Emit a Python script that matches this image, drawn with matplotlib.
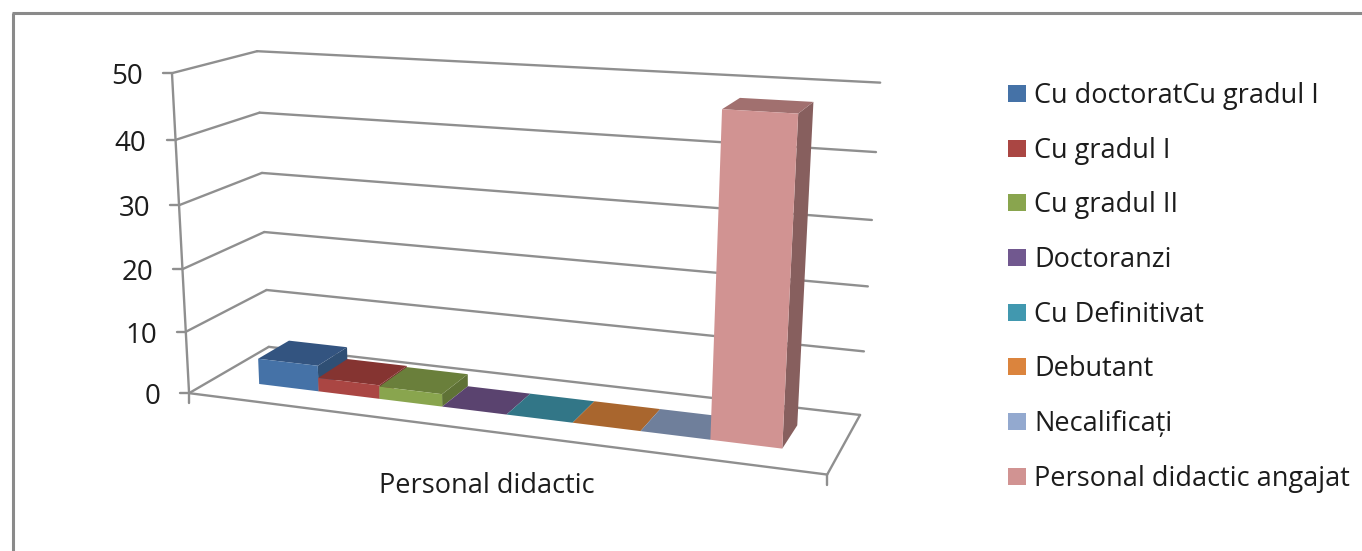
import numpy as np
import matplotlib
matplotlib.use('Agg')
import matplotlib.pyplot as plt
from matplotlib.patches import Polygon, Patch

# data
categories = ['Cu doctoratCu gradul I', 'Cu gradul I', 'Cu gradul II', 'Doctoranzi',
              'Cu Definitivat', 'Debutant', 'Necalificați', 'Personal didactic angajat']
values = [4.2, 2.2, 2, 0, 0, 0, 0, 48]
front_colors = ['#4572a7', '#aa4643', '#89a54e', '#71588f', '#4198af', '#db843d', '#93a9cf', '#d19392']
top_colors = ['#335480', '#853431', '#6a7f3b', '#5a436f', '#327687', '#a9662e', '#6f7f9b', '#a1706f']
side_colors = ['#2f4f74', '#7a302d', '#5f7236', '#513d65', '#2d6b7a', '#99602a', '#65738c', '#875f5e']
y_ticks = [0, 10, 20, 30, 40, 50]
group_label = 'Personal didactic'

# where the chart box corners land in the picture (x along, z depth, v value) -> pixels
box_front_left = [(393, 190), (332, 186), (269, 182), (205, 179), (140, 175), (73, 172)]
box_back_left = [(347, 268), (290, 267), (232, 264), (173, 262), (113, 259), (51, 258)]
box_back_right = [(415, 860), (351, 864), (286, 868), (220, 872), (152, 876), (83, 880)]
box_front_right_floor = (827, 475)

GRID = '#8f8f8f'
FONT = 'Open Sans'
TXT = '#1c1c1c'


def fit_camera():
    rows = []
    corners = [(0, 0, box_front_left), (0, 1, box_back_left), (1, 1, box_back_right)]
    pts = []
    for x, z, col in corners:
        for val, (py, px) in zip(y_ticks, col):
            pts.append((x, z, val / 50, px / 1000, py / 1000))
    pts.append((1, 0, 0, box_front_right_floor[0] / 1000, box_front_right_floor[1] / 1000))
    for x, z, v, u, w in pts:
        rows.append([x, z, v, 1, 0, 0, 0, 0, -u * x, -u * z, -u * v, -u])
        rows.append([0, 0, 0, 0, x, z, v, 1, -w * x, -w * z, -w * v, -w])
    _, _, vt = np.linalg.svd(np.array(rows))
    return vt[-1].reshape(3, 4)


CAM = fit_camera()


def proj(x, z, v):
    p = CAM @ np.array([x, z, v / 50, 1.0])
    return p[0] / p[2] * 1000, p[1] / p[2] * 1000


fig = plt.figure(figsize=(13.62, 5.51), dpi=100)
ax = fig.add_axes([0, 0, 1, 1])
ax.set_xlim(0, 1362)
ax.set_ylim(551, 0)
ax.axis('off')

# outer frame of the screenshot
ax.plot([13, 13], [551, 12.5], color='#8a8a8a', lw=2.2, solid_capstyle='butt')
ax.plot([12, 1362], [12.5, 12.5], color='#8a8a8a', lw=2.2, solid_capstyle='butt')


def seg(a, b, lw=1.7):
    ax.plot([a[0], b[0]], [a[1], b[1]], color=GRID, lw=lw, solid_capstyle='round', zorder=1)


# walls and gridlines
for t in y_ticks:
    seg(proj(0, 0, t), proj(0, 1, t))
    seg(proj(0, 1, t), proj(1, 1, t))
    fx, fy = proj(0, 0, t)
    seg((fx - 9, fy), (fx, fy))
    ax.text(fx - 29, fy + 4, str(t), ha='right', va='center', fontsize=20, family=FONT, color=TXT)
seg(proj(0, 0, 0), proj(0, 0, 50))
seg(proj(0, 0, 0), proj(1, 0, 0))
seg(proj(1, 0, 0), proj(1, 1, 0))
for x in [0, 1]:
    fx, fy = proj(x, 0, 0)
    seg((fx, fy), (fx, fy + 10))

# the bars, left to right
bar_start = 0.081
bar_w = 0.105
z_front, z_back = 0.30, 0.70
for i, val in enumerate(values):
    x0 = bar_start + i * bar_w
    x1 = x0 + bar_w
    side = [proj(x1, z_front, 0), proj(x1, z_back, 0), proj(x1, z_back, val), proj(x1, z_front, val)]
    top = [proj(x0, z_front, val), proj(x1, z_front, val), proj(x1, z_back, val), proj(x0, z_back, val)]
    front = [proj(x0, z_front, 0), proj(x1, z_front, 0), proj(x1, z_front, val), proj(x0, z_front, val)]
    ax.add_patch(Polygon(side, fc=side_colors[i], ec='none', zorder=2 + i))
    ax.add_patch(Polygon(top, fc=top_colors[i], ec='none', zorder=2 + i))
    if val > 0:
        ax.add_patch(Polygon(front, fc=front_colors[i], ec='none', zorder=2 + i))

ax.text(487, 486, group_label, ha='center', va='center', fontsize=19.5, family=FONT, color=TXT)

handles = [Patch(fc=c, ec='none', label=n) for c, n in zip(front_colors, categories)]
leg = ax.legend(handles=handles, loc='upper left', bbox_to_anchor=(1008 / 1362, 1 - 82 / 551),
                bbox_transform=ax.transAxes, frameon=False, borderaxespad=0, borderpad=0,
                prop={'family': FONT, 'size': 19.5}, handlelength=0.67, handleheight=0.59,
                handletextpad=0.3, labelspacing=0.985)
for t in leg.get_texts():
    t.set_color(TXT)

fig.savefig('out.png', dpi=100)
